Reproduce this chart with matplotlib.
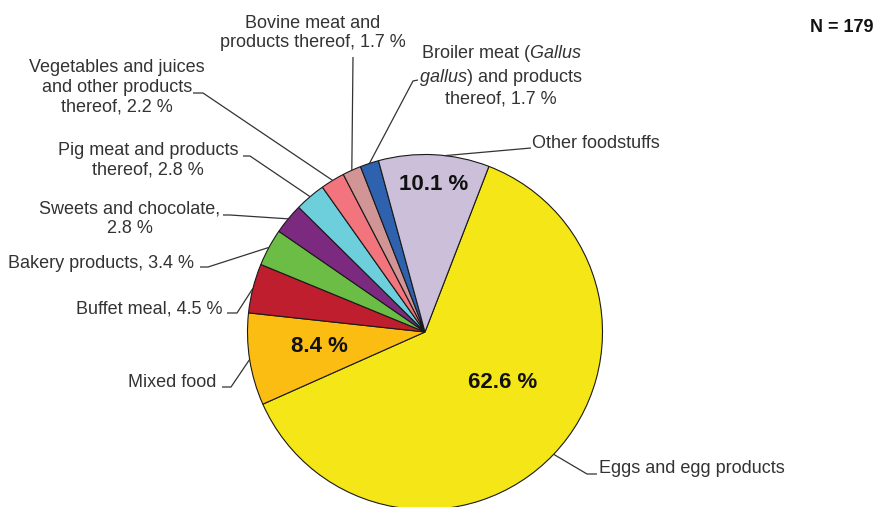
import numpy as np
import matplotlib.pyplot as plt

plt.rcParams['font.family'] = ['Liberation Sans', 'DejaVu Sans']
plt.rcParams['mathtext.fontset'] = 'custom'
plt.rcParams['mathtext.rm'] = 'Liberation Sans'
plt.rcParams['mathtext.it'] = 'Liberation Sans:italic'

# Данные
categories = ['Eggs and egg products', 'Mixed food', 'Buffet meal', 'Bakery products',
              'Sweets and chocolate', 'Pig meat and products thereof',
              'Vegetables and juices and other products thereof',
              'Bovine meat and products thereof',
              'Broiler meat (Gallus gallus) and products thereof',
              'Other foodstuffs']
shares = [62.6, 8.4, 4.5, 3.4, 2.8, 2.8, 2.2, 1.7, 1.7, 10.1]
colors = ['#F5E617', '#FCBD12', '#BE1E2D', '#6CBD45', '#7B2A80',
          '#6DCFDC', '#F2757E', '#D29595', '#2E62AE', '#CBBFDA']
label_texts = [
    'Eggs and egg products',
    'Mixed food',
    'Buffet meal, {} %',
    'Bakery products, {} %',
    'Sweets and chocolate,\n{} %',
    'Pig meat and products\nthereof, {} %',
    'Vegetables and juices\nand other products\nthereof, {} %',
    'Bovine meat and\nproducts thereof, {} %',
    'Broiler meat ($\\it{{Gallus}}$\n$\\it{{gallus}}$) and products\nthereof, {} %',
    'Other foodstuffs',
]
n_total = 179

W, H = 875, 507
CX, CY, R = 425, 332, 177.5   # центр и радиус в пикселях (y сверху)


def py(y):
    return H - y


fig = plt.figure(figsize=(W / 100, H / 100), dpi=100)
ax = fig.add_axes([0, 0, 1, 1])

wedges, _ = ax.pie(shares, colors=colors, startangle=68.9, counterclock=False,
                   center=(CX, py(CY)), radius=R,
                   wedgeprops=dict(edgecolor='#1a1a1a', linewidth=0.8))
ax.set_xlim(0, W)
ax.set_ylim(0, H)
ax.set_aspect('equal')
ax.axis('off')

# Подписи снаружи: позиция текста, выравнивание, точки выноски, сдвиг угла выноски
layout = [
    dict(xy=(599, 473), ha='left', va='baseline', path=[(587, 474), (597, 474)]),
    dict(xy=(216, 387), ha='right', va='baseline', path=[(231, 387), (222, 387)]),
    dict(xy=(222, 313), ha='right', va='baseline', path=[(237, 313), (227, 313)]),
    dict(xy=(194, 268), ha='right', va='baseline', path=[(208, 267), (200, 267)]),
    dict(xy=(130, 219), ha='center', va='center', path=[(230, 215), (223, 215)]),
    dict(xy=(148, 160), ha='center', va='center', path=[(250, 156), (243, 156)]),
    dict(xy=(117, 87), ha='center', va='center', path=[(203, 93), (193, 93)]),
    dict(xy=(313, 33), ha='center', va='center', path=[(353, 57)]),
    dict(xy=(501, 75), ha='center', va='center', path=[(413, 81), (418, 80)]),
    dict(xy=(532, 143), ha='left', va='center', path=[(531, 148)], shift=-3.5),
]

for w, v, txt, lay in zip(wedges, shares, label_texts, layout):
    mid = np.deg2rad((w.theta1 + w.theta2) / 2 + lay.get('shift', 0))
    ex = CX + R * np.cos(mid)
    ey = CY - R * np.sin(mid)
    xs = [ex] + [p[0] for p in lay['path']]
    ys = [py(ey)] + [py(p[1]) for p in lay['path']]
    ax.plot(xs, ys, color='#333333', lw=0.9, solid_capstyle='butt')
    ax.text(lay['xy'][0], py(lay['xy'][1]), txt.format(v), ha=lay['ha'], va=lay['va'],
            fontsize=13, color='#333333', linespacing=1.2, multialignment='center')

# Проценты внутри крупных секторов
inner = {0: (503, 383), 1: (319, 347), 9: (434, 184)}
for i, (x, y) in inner.items():
    ax.text(x, py(y), f'{shares[i]} %', ha='center', va='center',
            fontsize=16, fontweight='bold', color='#111111')

ax.text(873, py(28), f'N = {n_total}', ha='right', va='center',
        fontsize=13, fontweight='bold', color='#111111')

fig.savefig('out.png', dpi=100)
